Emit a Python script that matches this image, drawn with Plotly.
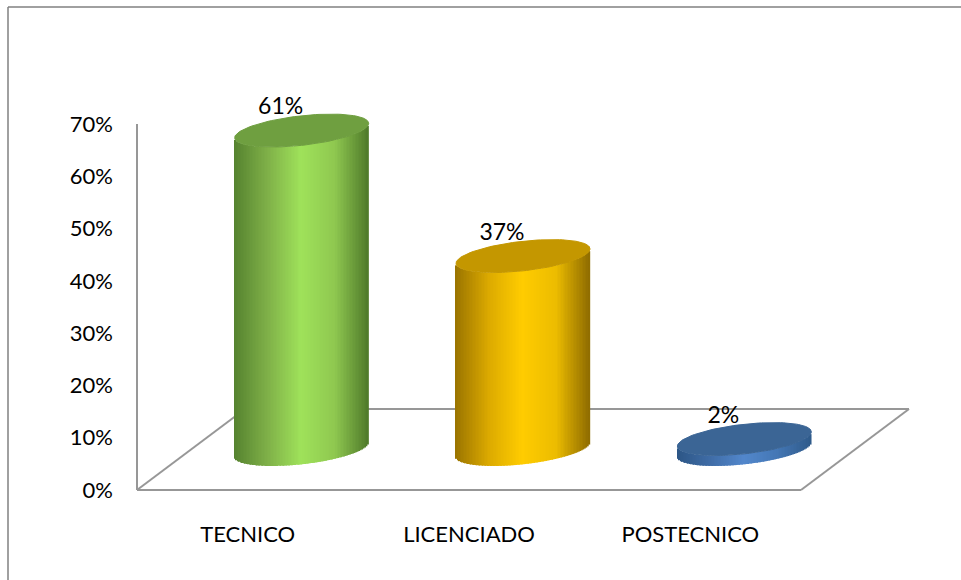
import math
import plotly.graph_objects as go

categories = ["TECNICO", "LICENCIADO", "POSTECNICO"]
values = [61, 37, 2]
labels = ["61%", "37%", "2%"]
tick_vals = [0, 10, 20, 30, 40, 50, 60, 70]
tick_text = ["0%", "10%", "20%", "30%", "40%", "50%", "60%", "70%"]

# colour ramps: edge, shoulder, peak, shoulder, edge
side_ramps = [
    ["#55822f", "#7fb048", "#9fe25a", "#8fc850", "#4f7a2a"],
    ["#9a7400", "#dcaa00", "#ffcc00", "#ecbc00", "#8f6c00"],
    ["#2c5585", "#3f6ca6", "#5287cc", "#4477b5", "#2f5a8a"],
]
top_colors = ["#6f9f40", "#c49700", "#3b6595"]

W, H = 961, 580
L, R, T, B = 137, 801, 124, 490
PX_X = (R - L) / 3          # px per category
PX_Y = (B - T) / 70         # px per percentage point
X0 = L + PX_X / 2           # pixel of first category
DEPTH_X = 108 / PX_X        # floor depth, category units
DEPTH_Y = 81 / PX_Y         # floor depth, percent units
CX = DEPTH_X / 2
CY = DEPTH_Y / 2
A = 67 / PX_X               # cylinder half width
B_E = 14.8 / PX_Y           # ellipse half height
S_E = 7.2 / PX_Y            # ellipse tilt


def hex_rgb(c):
    return [int(c[i:i + 2], 16) for i in (1, 3, 5)]


def ramp(colors, u):
    pos = (u + 1) / 2 * (len(colors) - 1)
    i = min(int(pos), len(colors) - 2)
    f = pos - i
    a, b = hex_rgb(colors[i]), hex_rgb(colors[i + 1])
    return "rgb({},{},{})".format(*[round(a[k] + (b[k] - a[k]) * f) for k in range(3)])


fig = go.Figure()
STRIPS = 90

for i, (v, cat) in enumerate(zip(values, categories)):
    xs, bases, hs, cols = [], [], [], []
    for k in range(STRIPS):
        u = -1 + (k + 0.5) * 2 / STRIPS
        xs.append(i + CX + u * A)
        bases.append(CY + S_E * u - B_E * math.sqrt(1 - u * u))
        hs.append(v)
        cols.append(ramp(side_ramps[i], u))
    fig.add_trace(go.Bar(
        x=xs, y=hs, base=bases, width=[2 * A / STRIPS * 1.25] * STRIPS,
        marker=dict(color=cols, line=dict(width=0)),
        name=cat, showlegend=False, hoverinfo="skip",
    ))

for i, v in enumerate(values):
    ex, ey = [], []
    for k in range(121):
        th = 2 * math.pi * k / 120
        ex.append(i + CX + A * math.cos(th))
        ey.append(v + CY + S_E * math.cos(th) + B_E * math.sin(th))
    fig.add_trace(go.Scatter(
        x=ex, y=ey, mode="lines", fill="toself", fillcolor=top_colors[i],
        line=dict(color=top_colors[i], width=1), showlegend=False,
        hoverinfo="skip",
    ))

fig.add_trace(go.Scatter(
    x=[i + CX - 21 / PX_X for i in range(3)],
    y=[v + CY + 22 / PX_Y for v in values],
    text=labels, mode="text", textposition="middle center",
    textfont=dict(family="Lato", size=23, color="#000000"),
    showlegend=False, hoverinfo="skip",
))

grey = "#979797"
axis_lines = [
    dict(x0=-0.5, y0=0, x1=-0.5, y1=70),
    dict(x0=-0.5, y0=0, x1=2.5, y1=0),
    dict(x0=-0.5, y0=0, x1=-0.5 + DEPTH_X, y1=DEPTH_Y),
    dict(x0=-0.5 + DEPTH_X, y0=DEPTH_Y, x1=2.5 + DEPTH_X, y1=DEPTH_Y),
    dict(x0=2.5 + DEPTH_X, y0=DEPTH_Y, x1=2.5, y1=0),
]
shapes = [dict(type="line", xref="x", yref="y", layer="below",
               line=dict(color=grey, width=2), **f) for f in axis_lines]
shapes += [
    dict(type="line", xref="paper", yref="paper", x0=8 / W, x1=8 / W,
         y0=1 - 7 / H, y1=0, line=dict(color="#808080", width=1.5)),
    dict(type="line", xref="paper", yref="paper", x0=8 / W, x1=1,
         y0=1 - 7 / H, y1=1 - 7 / H, line=dict(color="#808080", width=1.5)),
]

fig.update_layout(
    width=W, height=H, autosize=False,
    margin=dict(l=0, r=0, t=0, b=0, pad=0),
    paper_bgcolor="white", plot_bgcolor="white",
    barmode="overlay", showlegend=False, shapes=shapes,
    xaxis=dict(range=[(0 - X0) / PX_X, (W - X0) / PX_X], tickmode="array",
               tickvals=[0, 1, 2], ticktext=categories, showgrid=False,
               zeroline=False, showline=False, ticks="",
               anchor="free", position=(H - B) / H, side="bottom",
               ticklabelstandoff=29,
               tickfont=dict(family="Lato", size=22, color="#000000")),
    yaxis=dict(range=[(B - H) / PX_Y, B / PX_Y], tickmode="array",
               tickvals=tick_vals, ticktext=tick_text, showgrid=False,
               zeroline=False, showline=False, ticks="",
               anchor="free", position=L / W, side="left",
               ticklabelstandoff=24,
               tickfont=dict(family="Lato", size=22, color="#000000")),
)

fig.write_html("out.html", config={"displayModeBar": False},
               post_script="document.body.style.margin='0';document.body.style.overflow='hidden';")
